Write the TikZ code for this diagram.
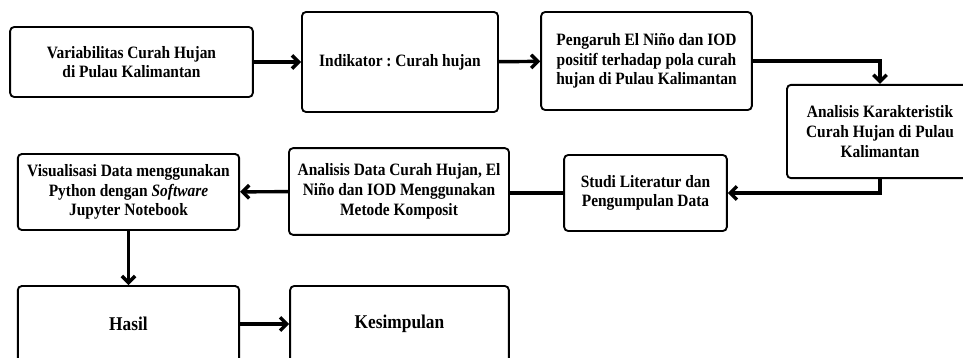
\documentclass[tikz,border=0pt]{standalone}
\usepackage{fontspec}
\setmainfont{Liberation Serif}[FakeStretch=0.89]
\usetikzlibrary{arrows.meta}
\frenchspacing
\tikzstyle{block}=[draw, rounded corners=3pt, line width=1.4pt, align=center, inner sep=2pt, font=\bfseries\fontsize{13}{14.8}\selectfont]
\tikzstyle{flow}=[line width=2.6pt, -{Straight Barb[length=5pt,width=10pt]}]
\newcommand{\block}{\node[block]}

\begin{document}
\begin{tikzpicture}[x=0.75pt, y=-0.75pt]
            \clip (0,0) rectangle (963,357);
            \block[minimum width=182pt, minimum height=52.5pt] (var) at (131.5,62) {Variabilitas Curah Hujan\\di Pulau Kalimantan};
            \block[minimum width=147pt, minimum height=75pt] (ind) at (400,62) {Indikator : Curah hujan};
            \block[minimum width=158pt, minimum height=73.5pt] (pen) at (646.5,61) {Pengaruh El Niño dan IOD\\positif terhadap pola curah\\hujan di Pulau Kalimantan};
            \block[minimum width=139.5pt, minimum height=70pt] (kar) at (880,131.5) {Analisis Karakteristik\\Curah Hujan di Pulau\\Kalimantan};
            \block[minimum width=122pt, minimum height=57pt] (stu) at (645.5,193) {Studi Literatur dan\\Pengumpulan Data};
            \block[minimum width=165pt, minimum height=65pt] (ana) at (399,191.5) {Analisis Data Curah Hujan, El\\Niño dan IOD Menggunakan\\Metode Komposit};
            \block[minimum width=166pt, minimum height=57pt] (vis) at (128.5,192) {Visualisasi Data menggunakan\\Python dengan \textit{Software}\\Jupyter Notebook};
            \block[minimum width=166pt, minimum height=57pt, font=\bfseries\fontsize{14.6}{16}\selectfont] (has) at (128.5,324) {Hasil};
            \block[minimum width=164pt, minimum height=57pt, font=\bfseries\fontsize{14.6}{16}\selectfont] (kes) at (399.5,324) {Kesimpulan};
            \path[flow]
                (var) edge (ind)
                (ind) edge (pen)
                (ana) edge (vis)
                (vis) edge (has)
                (has) edge (kes)
            ;
            \draw[flow] (pen.east) -| (kar.north);
            \draw[flow] (kar.south) |- (stu.east);
            \draw[flow, -] (stu.west) -- (stu.west -| ana.east);
        \end{tikzpicture}
\end{document}
